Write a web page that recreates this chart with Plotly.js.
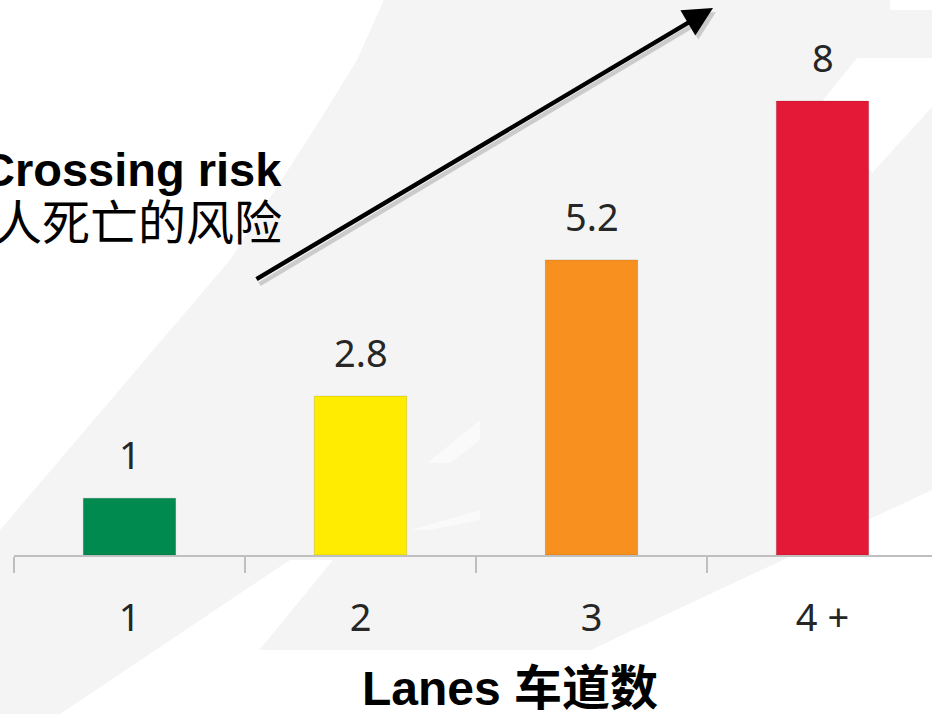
<!DOCTYPE html>
<html>
<head>
<meta charset="utf-8">
<script src="https://cdn.plot.ly/plotly-3.0.1.min.js"></script>
<style>html,body{margin:0;padding:0;background:#fff;}#chart{width:932px;height:714px;}</style>
</head>
<body>
<div id="chart"></div>
<script>
// Data
var categories = ['1', '2', '3', '4 +'];
var riskValues = [1, 2.8, 5.2, 8];
var valueLabels = ['1', '2.8', '5.2', '8'];
var barColors = ['#008A4F', '#FFEC00', '#F7901E', '#E31937'];

var W = 932, H = 714, ML = 14, MB = 159;
var PW = W - ML, PH = H - MB;
function px(x) { return (x - ML) / PW; }
function py(y) { return (PH - y) / PH; }
function poly(pts) {
  return 'M' + pts.map(function (p) { return px(p[0]) + ',' + py(p[1]); }).join(' L') + ' Z';
}
function bgShape(pts, color) {
  return {type: 'path', xref: 'paper', yref: 'paper', path: poly(pts),
          fillcolor: color, line: {width: 0}, layer: 'below'};
}

var shapes = [
  bgShape([[0,0],[932,0],[932,714],[0,714]], '#F4F4F4'),
  // top-left white swoosh
  bgShape([[0,0],[384,0],[357,60],[320,120],[230,260],[0,530]], '#FFFFFF'),
  // lower-left white band
  bgShape([[290,560],[333,560],[207,714],[60,714]], '#FFFFFF'),
  // bottom text box
  bgShape([[207,650],[932,650],[932,714],[207,714]], '#FFFFFF'),
  // bottom-right white region
  bgShape([[932,490],[932,714],[454,714]], '#FFFFFF'),
  // top-right strip
  bgShape([[890,0],[932,0],[932,10],[890,10]], '#FFFFFF'),
  // right band
  bgShape([[857,58],[932,58],[932,107],[872,173],[823,100]], '#FFFFFF'),
  // faint streaks
  bgShape([[427,463],[480,420],[480,440],[450,463]], '#FAFAFA'),
  bgShape([[410,530],[480,510],[480,520],[430,530]], '#FAFAFA')
];

var annotations = categories.map(function (c, i) {
  return {x: i, y: riskValues[i], xref: 'x', yref: 'y', text: valueLabels[i],
          showarrow: false, yanchor: 'middle', yshift: 44,
          font: {family: 'Noto Sans, sans-serif', size: 38, color: '#262626'}};
});

// arrow shadow and arrow
annotations.push({x: px(716), y: py(12), xref: 'paper', yref: 'paper', ax: -458, ay: 273,
  text: '', showarrow: true, arrowhead: 2, arrowsize: 1.3, arrowwidth: 4.5, arrowcolor: 'rgba(0,0,0,0.16)'});
annotations.push({x: px(713), y: py(8), xref: 'paper', yref: 'paper', ax: -458, ay: 272,
  text: '', showarrow: true, arrowhead: 2, arrowsize: 1.3, arrowwidth: 4.5, arrowcolor: '#000000'});

annotations.push({x: px(284), y: py(169), xref: 'paper', yref: 'paper', xanchor: 'right', yanchor: 'middle',
  text: '<b>Crossing risk</b>', showarrow: false,
  font: {family: 'Liberation Sans, Arial, sans-serif', size: 47, color: '#000'}});
annotations.push({x: px(284), y: py(219), xref: 'paper', yref: 'paper', xanchor: 'right', yanchor: 'middle',
  text: '行人死亡的风险', showarrow: false,
  font: {family: 'Noto Sans CJK SC, sans-serif', size: 48, color: '#000'}});
annotations.push({x: px(510), y: py(688), xref: 'paper', yref: 'paper', xanchor: 'center', yanchor: 'middle',
  text: '<b>Lanes 车道数</b>', showarrow: false,
  font: {family: 'Liberation Sans, Noto Sans CJK SC, sans-serif', size: 48, color: '#000'}});

var trace = {
  type: 'bar', x: categories, y: riskValues, width: 0.4,
  marker: {color: barColors, line: {color: 'rgba(0,0,0,0.12)', width: 1}},
  hoverinfo: 'skip'
};

var layout = {
  width: W, height: H,
  margin: {l: ML, r: 0, t: 0, b: MB},
  paper_bgcolor: '#FFFFFF', plot_bgcolor: 'rgba(0,0,0,0)',
  showlegend: false,
  xaxis: {type: 'category', range: [-0.5, (W - ML) / 231 - 0.5], tickson: 'boundaries',
    ticks: 'outside', ticklen: 16, tickwidth: 2, tickcolor: '#BFBFBF',
    showline: true, linecolor: '#BFBFBF', linewidth: 2, showgrid: false, zeroline: false,
    ticklabelstandoff: 28,
    tickfont: {family: 'Noto Sans, sans-serif', size: 38, color: '#262626'}, fixedrange: true},
  yaxis: {range: [0, PH / 56.75], visible: false, showgrid: false, zeroline: false, fixedrange: true},
  shapes: shapes,
  annotations: annotations
};

Plotly.newPlot('chart', [trace], layout, {displayModeBar: false, staticPlot: true});
</script>
</body>
</html>
